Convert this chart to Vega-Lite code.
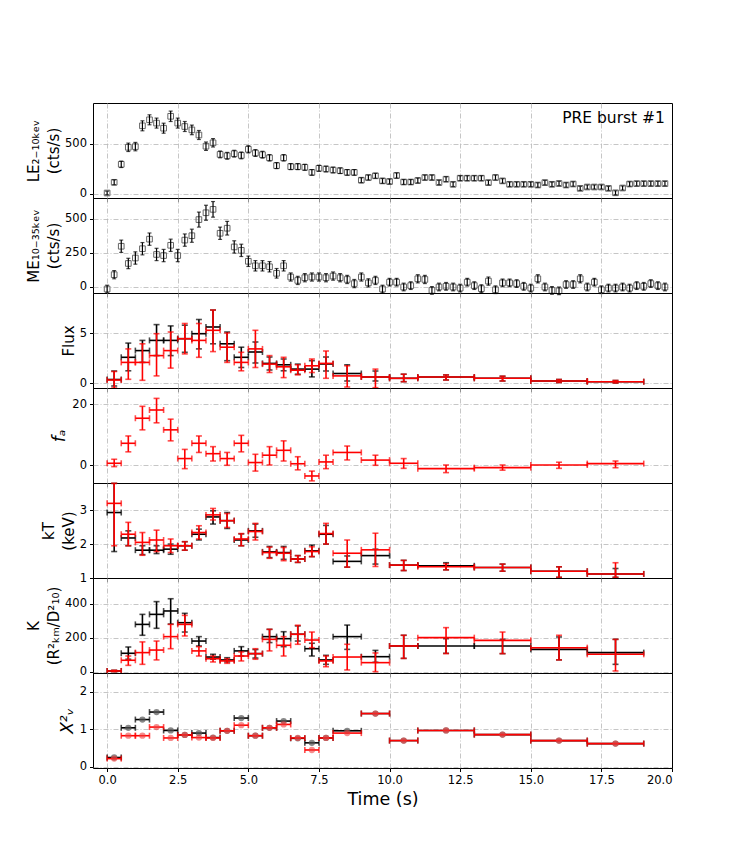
{
  "$schema": "https://vega.github.io/schema/vega-lite/v6.json",
  "padding": {"left": 26, "top": 102, "right": 5, "bottom": 5},
  "background": "white",
  "bounds": "flush",
  "datasets": {
    "lc": [
      {"t": 0, "le": 5, "lee": 18, "me": -15, "mee": 28},
      {"t": 0.25, "le": 112, "lee": 24, "me": 90, "mee": 30},
      {"t": 0.5, "le": 292, "lee": 32, "me": 298, "mee": 45},
      {"t": 0.75, "le": 462, "lee": 42, "me": 172, "mee": 38},
      {"t": 1, "le": 469, "lee": 42, "me": 212, "mee": 45},
      {"t": 1.25, "le": 677, "lee": 50, "me": 280, "mee": 45},
      {"t": 1.5, "le": 737, "lee": 50, "me": 350, "mee": 45},
      {"t": 1.75, "le": 704, "lee": 50, "me": 238, "mee": 45},
      {"t": 2, "le": 653, "lee": 50, "me": 230, "mee": 45},
      {"t": 2.25, "le": 772, "lee": 52, "me": 305, "mee": 45},
      {"t": 2.5, "le": 704, "lee": 50, "me": 230, "mee": 45},
      {"t": 2.75, "le": 670, "lee": 50, "me": 343, "mee": 45},
      {"t": 3, "le": 636, "lee": 48, "me": 375, "mee": 48},
      {"t": 3.25, "le": 585, "lee": 45, "me": 493, "mee": 55},
      {"t": 3.5, "le": 473, "lee": 42, "me": 543, "mee": 55},
      {"t": 3.75, "le": 507, "lee": 42, "me": 568, "mee": 57},
      {"t": 4, "le": 391, "lee": 34, "me": 393, "mee": 45},
      {"t": 4.25, "le": 377, "lee": 34, "me": 430, "mee": 50},
      {"t": 4.5, "le": 398, "lee": 34, "me": 293, "mee": 45},
      {"t": 4.75, "le": 381, "lee": 34, "me": 268, "mee": 45},
      {"t": 5, "le": 442, "lee": 36, "me": 188, "mee": 38},
      {"t": 5.25, "le": 405, "lee": 34, "me": 155, "mee": 38},
      {"t": 5.5, "le": 388, "lee": 34, "me": 155, "mee": 38},
      {"t": 5.75, "le": 357, "lee": 32, "me": 148, "mee": 38},
      {"t": 6, "le": 279, "lee": 30, "me": 100, "mee": 35},
      {"t": 6.25, "le": 357, "lee": 32, "me": 155, "mee": 38},
      {"t": 6.5, "le": 269, "lee": 30, "me": 73, "mee": 30},
      {"t": 6.75, "le": 269, "lee": 30, "me": 48, "mee": 30},
      {"t": 7, "le": 262, "lee": 30, "me": 68, "mee": 30},
      {"t": 7.25, "le": 211, "lee": 28, "me": 73, "mee": 30},
      {"t": 7.5, "le": 252, "lee": 30, "me": 73, "mee": 30},
      {"t": 7.75, "le": 245, "lee": 28, "me": 68, "mee": 30},
      {"t": 8, "le": 235, "lee": 28, "me": 80, "mee": 30},
      {"t": 8.25, "le": 228, "lee": 28, "me": 68, "mee": 30},
      {"t": 8.5, "le": 211, "lee": 28, "me": 55, "mee": 30},
      {"t": 8.75, "le": 211, "lee": 28, "me": 25, "mee": 30},
      {"t": 9, "le": 133, "lee": 24, "me": 73, "mee": 30},
      {"t": 9.25, "le": 160, "lee": 24, "me": 30, "mee": 30},
      {"t": 9.5, "le": 177, "lee": 24, "me": 48, "mee": 30},
      {"t": 9.75, "le": 126, "lee": 24, "me": -15, "mee": 28},
      {"t": 10, "le": 120, "lee": 24, "me": 35, "mee": 28},
      {"t": 10.25, "le": 180, "lee": 26, "me": 35, "mee": 28},
      {"t": 10.5, "le": 115, "lee": 24, "me": 0, "mee": 28},
      {"t": 10.75, "le": 115, "lee": 24, "me": 10, "mee": 28},
      {"t": 11, "le": 130, "lee": 24, "me": 60, "mee": 30},
      {"t": 11.25, "le": 160, "lee": 24, "me": 55, "mee": 30},
      {"t": 11.5, "le": 160, "lee": 24, "me": -25, "mee": 28},
      {"t": 11.75, "le": 110, "lee": 22, "me": 0, "mee": 28},
      {"t": 12, "le": 143, "lee": 24, "me": 5, "mee": 28},
      {"t": 12.25, "le": 92, "lee": 22, "me": 0, "mee": 28},
      {"t": 12.5, "le": 153, "lee": 24, "me": -8, "mee": 28},
      {"t": 12.75, "le": 153, "lee": 24, "me": 35, "mee": 28},
      {"t": 13, "le": 153, "lee": 24, "me": 10, "mee": 28},
      {"t": 13.25, "le": 153, "lee": 24, "me": -12, "mee": 28},
      {"t": 13.5, "le": 109, "lee": 22, "me": 43, "mee": 30},
      {"t": 13.75, "le": 160, "lee": 24, "me": -20, "mee": 28},
      {"t": 14, "le": 126, "lee": 22, "me": 30, "mee": 28},
      {"t": 14.25, "le": 92, "lee": 22, "me": 30, "mee": 28},
      {"t": 14.5, "le": 92, "lee": 22, "me": 25, "mee": 28},
      {"t": 14.75, "le": 92, "lee": 22, "me": 5, "mee": 28},
      {"t": 15, "le": 92, "lee": 22, "me": -8, "mee": 28},
      {"t": 15.25, "le": 85, "lee": 22, "me": 60, "mee": 30},
      {"t": 15.5, "le": 109, "lee": 22, "me": 0, "mee": 28},
      {"t": 15.75, "le": 92, "lee": 22, "me": -25, "mee": 28},
      {"t": 16, "le": 100, "lee": 22, "me": -28, "mee": 28},
      {"t": 16.25, "le": 85, "lee": 22, "me": 18, "mee": 28},
      {"t": 16.5, "le": 95, "lee": 22, "me": 18, "mee": 28},
      {"t": 16.75, "le": 51, "lee": 20, "me": 60, "mee": 30},
      {"t": 17, "le": 65, "lee": 20, "me": 0, "mee": 28},
      {"t": 17.25, "le": 65, "lee": 20, "me": 35, "mee": 28},
      {"t": 17.5, "le": 65, "lee": 20, "me": -20, "mee": 28},
      {"t": 17.75, "le": 51, "lee": 20, "me": -8, "mee": 28},
      {"t": 18, "le": 7, "lee": 20, "me": -8, "mee": 28},
      {"t": 18.25, "le": 55, "lee": 20, "me": 0, "mee": 28},
      {"t": 18.5, "le": 95, "lee": 22, "me": -8, "mee": 28},
      {"t": 18.75, "le": 99, "lee": 22, "me": 10, "mee": 28},
      {"t": 19, "le": 99, "lee": 22, "me": 5, "mee": 28},
      {"t": 19.25, "le": 99, "lee": 22, "me": 25, "mee": 28},
      {"t": 19.5, "le": 99, "lee": 22, "me": 10, "mee": 28},
      {"t": 19.75, "le": 99, "lee": 22, "me": 0, "mee": 28}
    ],
    "fits": [
      {"p": "fl", "m": "b", "t": 0.25, "d": 0.25, "v": 0.35, "lo": -0.3, "hi": 1.2},
      {"p": "fl", "m": "b", "t": 0.75, "d": 0.25, "v": 2.57, "lo": 1.22, "hi": 3.99},
      {"p": "fl", "m": "b", "t": 1.25, "d": 0.25, "v": 3.24, "lo": 2.06, "hi": 4.26},
      {"p": "fl", "m": "b", "t": 1.75, "d": 0.25, "v": 4.26, "lo": 2.74, "hi": 5.84},
      {"p": "fl", "m": "b", "t": 2.25, "d": 0.25, "v": 4.26, "lo": 2.74, "hi": 5.71},
      {"p": "fl", "m": "b", "t": 2.75, "d": 0.25, "v": 4.43, "lo": 3.07, "hi": 5.78},
      {"p": "fl", "m": "b", "t": 3.25, "d": 0.25, "v": 4.93, "lo": 3.41, "hi": 6.35},
      {"p": "fl", "m": "b", "t": 3.75, "d": 0.25, "v": 5.6, "lo": 3.92, "hi": 7.3},
      {"p": "fl", "m": "b", "t": 4.25, "d": 0.25, "v": 3.92, "lo": 2.23, "hi": 5.1},
      {"p": "fl", "m": "b", "t": 4.75, "d": 0.25, "v": 2.57, "lo": 1.55, "hi": 3.58},
      {"p": "fl", "m": "b", "t": 5.25, "d": 0.25, "v": 3.1, "lo": 2.0, "hi": 4.1},
      {"p": "fl", "m": "b", "t": 5.75, "d": 0.25, "v": 1.96, "lo": 1.3, "hi": 2.6},
      {"p": "fl", "m": "b", "t": 6.25, "d": 0.25, "v": 1.82, "lo": 1.22, "hi": 2.4},
      {"p": "fl", "m": "b", "t": 6.75, "d": 0.25, "v": 1.39, "lo": 0.88, "hi": 1.89},
      {"p": "fl", "m": "b", "t": 7.25, "d": 0.25, "v": 1.39, "lo": 0.61, "hi": 2.23},
      {"p": "fl", "m": "b", "t": 7.75, "d": 0.25, "v": 1.9, "lo": 1.2, "hi": 2.6},
      {"p": "fl", "m": "b", "t": 8.5, "d": 0.5, "v": 0.95, "lo": 0.2, "hi": 1.82},
      {"p": "fl", "m": "b", "t": 9.5, "d": 0.5, "v": 0.6, "lo": 0.2, "hi": 1.2},
      {"p": "fl", "m": "b", "t": 10.5, "d": 0.5, "v": 0.47, "lo": 0.13, "hi": 0.88},
      {"p": "fl", "m": "b", "t": 12, "d": 1, "v": 0.6, "lo": 0.3, "hi": 0.81},
      {"p": "fl", "m": "b", "t": 14, "d": 1, "v": 0.47, "lo": 0.2, "hi": 0.68},
      {"p": "fl", "m": "b", "t": 16, "d": 1, "v": 0.2, "lo": 0.05, "hi": 0.35},
      {"p": "fl", "m": "b", "t": 18, "d": 1, "v": 0.13, "lo": 0.0, "hi": 0.25},
      {"p": "fl", "m": "r", "t": 0.25, "d": 0.25, "v": 0.3, "lo": -0.5, "hi": 1.15},
      {"p": "fl", "m": "r", "t": 0.75, "d": 0.25, "v": 2.06, "lo": 0.37, "hi": 3.41},
      {"p": "fl", "m": "r", "t": 1.25, "d": 0.25, "v": 2.06, "lo": 0.27, "hi": 3.92},
      {"p": "fl", "m": "r", "t": 1.75, "d": 0.25, "v": 2.74, "lo": 0.71, "hi": 4.93},
      {"p": "fl", "m": "r", "t": 2.25, "d": 0.25, "v": 3.24, "lo": 1.49, "hi": 5.1},
      {"p": "fl", "m": "r", "t": 2.75, "d": 0.25, "v": 4.43, "lo": 2.91, "hi": 5.95},
      {"p": "fl", "m": "r", "t": 3.25, "d": 0.25, "v": 4.26, "lo": 2.57, "hi": 5.95},
      {"p": "fl", "m": "r", "t": 3.75, "d": 0.25, "v": 5.27, "lo": 3.14, "hi": 7.3},
      {"p": "fl", "m": "r", "t": 4.25, "d": 0.25, "v": 3.58, "lo": 2.06, "hi": 5.0},
      {"p": "fl", "m": "r", "t": 4.75, "d": 0.25, "v": 2.06, "lo": 1.22, "hi": 3.07},
      {"p": "fl", "m": "r", "t": 5.25, "d": 0.25, "v": 3.41, "lo": 1.55, "hi": 5.27},
      {"p": "fl", "m": "r", "t": 5.75, "d": 0.25, "v": 1.89, "lo": 1.05, "hi": 2.74},
      {"p": "fl", "m": "r", "t": 6.25, "d": 0.25, "v": 1.62, "lo": 0.54, "hi": 2.57},
      {"p": "fl", "m": "r", "t": 6.75, "d": 0.25, "v": 1.28, "lo": 0.81, "hi": 1.82},
      {"p": "fl", "m": "r", "t": 7.25, "d": 0.25, "v": 1.72, "lo": 1.05, "hi": 2.4},
      {"p": "fl", "m": "r", "t": 7.75, "d": 0.25, "v": 1.96, "lo": 0.47, "hi": 3.2},
      {"p": "fl", "m": "r", "t": 8.5, "d": 0.5, "v": 0.71, "lo": -0.4, "hi": 1.72},
      {"p": "fl", "m": "r", "t": 9.5, "d": 0.5, "v": 0.6, "lo": -0.47, "hi": 1.39},
      {"p": "fl", "m": "r", "t": 10.5, "d": 0.5, "v": 0.47, "lo": 0.13, "hi": 0.88},
      {"p": "fl", "m": "r", "t": 12, "d": 1, "v": 0.6, "lo": 0.3, "hi": 0.81},
      {"p": "fl", "m": "r", "t": 14, "d": 1, "v": 0.47, "lo": 0.2, "hi": 0.68},
      {"p": "fl", "m": "r", "t": 16, "d": 1, "v": 0.2, "lo": 0.05, "hi": 0.35},
      {"p": "fl", "m": "r", "t": 18, "d": 1, "v": 0.13, "lo": 0.0, "hi": 0.25},

      {"p": "fa", "m": "r", "t": 0.25, "d": 0.25, "v": 0.66, "lo": -0.44, "hi": 1.97},
      {"p": "fa", "m": "r", "t": 0.75, "d": 0.25, "v": 7.2, "lo": 4.4, "hi": 9.6},
      {"p": "fa", "m": "r", "t": 1.25, "d": 0.25, "v": 15.4, "lo": 11.6, "hi": 19.3},
      {"p": "fa", "m": "r", "t": 1.75, "d": 0.25, "v": 18.1, "lo": 13.9, "hi": 21.9},
      {"p": "fa", "m": "r", "t": 2.25, "d": 0.25, "v": 11.6, "lo": 8.0, "hi": 15.1},
      {"p": "fa", "m": "r", "t": 2.75, "d": 0.25, "v": 2.2, "lo": -1.1, "hi": 5.2},
      {"p": "fa", "m": "r", "t": 3.25, "d": 0.25, "v": 7.2, "lo": 4.2, "hi": 9.6},
      {"p": "fa", "m": "r", "t": 3.75, "d": 0.25, "v": 3.8, "lo": 1.4, "hi": 6.1},
      {"p": "fa", "m": "r", "t": 4.25, "d": 0.25, "v": 2.2, "lo": 0.0, "hi": 4.2},
      {"p": "fa", "m": "r", "t": 4.75, "d": 0.25, "v": 7.2, "lo": 4.4, "hi": 9.8},
      {"p": "fa", "m": "r", "t": 5.25, "d": 0.25, "v": 0.9, "lo": -1.9, "hi": 3.6},
      {"p": "fa", "m": "r", "t": 5.75, "d": 0.25, "v": 3.3, "lo": 0.1, "hi": 6.1},
      {"p": "fa", "m": "r", "t": 6.25, "d": 0.25, "v": 4.9, "lo": 1.4, "hi": 8.0},
      {"p": "fa", "m": "r", "t": 6.75, "d": 0.25, "v": 0.5, "lo": -1.5, "hi": 2.8},
      {"p": "fa", "m": "r", "t": 7.25, "d": 0.25, "v": -3.5, "lo": -5.1, "hi": -1.9},
      {"p": "fa", "m": "r", "t": 7.75, "d": 0.25, "v": 1.1, "lo": -1.1, "hi": 3.3},
      {"p": "fa", "m": "r", "t": 8.5, "d": 0.5, "v": 4.2, "lo": 1.75, "hi": 6.3},
      {"p": "fa", "m": "r", "t": 9.5, "d": 0.5, "v": 1.7, "lo": 0.0, "hi": 3.3},
      {"p": "fa", "m": "r", "t": 10.5, "d": 0.5, "v": 0.66, "lo": -1.0, "hi": 2.2},
      {"p": "fa", "m": "r", "t": 12, "d": 1, "v": -1.1, "lo": -2.4, "hi": 0.1},
      {"p": "fa", "m": "r", "t": 14, "d": 1, "v": -0.77, "lo": -1.6, "hi": 0.1},
      {"p": "fa", "m": "r", "t": 16, "d": 1, "v": 0.1, "lo": -1.0, "hi": 1.0},
      {"p": "fa", "m": "r", "t": 18, "d": 1, "v": 0.55, "lo": -0.8, "hi": 1.4},

      {"p": "kt", "m": "b", "t": 0.25, "d": 0.25, "v": 2.93, "lo": 1.78, "hi": 3.79},
      {"p": "kt", "m": "b", "t": 0.75, "d": 0.25, "v": 2.18, "lo": 1.95, "hi": 2.39},
      {"p": "kt", "m": "b", "t": 1.25, "d": 0.25, "v": 1.82, "lo": 1.69, "hi": 1.95},
      {"p": "kt", "m": "b", "t": 1.75, "d": 0.25, "v": 1.82, "lo": 1.72, "hi": 1.95},
      {"p": "kt", "m": "b", "t": 2.25, "d": 0.25, "v": 1.85, "lo": 1.7, "hi": 2.0},
      {"p": "kt", "m": "b", "t": 2.75, "d": 0.25, "v": 1.95, "lo": 1.82, "hi": 2.07},
      {"p": "kt", "m": "b", "t": 3.25, "d": 0.25, "v": 2.29, "lo": 2.12, "hi": 2.44},
      {"p": "kt", "m": "b", "t": 3.75, "d": 0.25, "v": 2.8, "lo": 2.59, "hi": 2.98},
      {"p": "kt", "m": "b", "t": 4.25, "d": 0.25, "v": 2.69, "lo": 2.46, "hi": 2.93},
      {"p": "kt", "m": "b", "t": 4.75, "d": 0.25, "v": 2.12, "lo": 1.95, "hi": 2.3},
      {"p": "kt", "m": "b", "t": 5.25, "d": 0.25, "v": 2.39, "lo": 2.2, "hi": 2.59},
      {"p": "kt", "m": "b", "t": 5.75, "d": 0.25, "v": 1.77, "lo": 1.6, "hi": 1.93},
      {"p": "kt", "m": "b", "t": 6.25, "d": 0.25, "v": 1.75, "lo": 1.55, "hi": 1.93},
      {"p": "kt", "m": "b", "t": 6.75, "d": 0.25, "v": 1.56, "lo": 1.46, "hi": 1.66},
      {"p": "kt", "m": "b", "t": 7.25, "d": 0.25, "v": 1.8, "lo": 1.63, "hi": 1.97},
      {"p": "kt", "m": "b", "t": 7.75, "d": 0.25, "v": 2.29, "lo": 2.0, "hi": 2.55},
      {"p": "kt", "m": "b", "t": 8.5, "d": 0.5, "v": 1.49, "lo": 1.32, "hi": 1.65},
      {"p": "kt", "m": "b", "t": 9.5, "d": 0.5, "v": 1.66, "lo": 1.41, "hi": 1.85},
      {"p": "kt", "m": "b", "t": 10.5, "d": 0.5, "v": 1.38, "lo": 1.22, "hi": 1.52},
      {"p": "kt", "m": "b", "t": 12, "d": 1, "v": 1.36, "lo": 1.24, "hi": 1.45},
      {"p": "kt", "m": "b", "t": 14, "d": 1, "v": 1.31, "lo": 1.2, "hi": 1.41},
      {"p": "kt", "m": "b", "t": 16, "d": 1, "v": 1.2, "lo": 1.02, "hi": 1.33},
      {"p": "kt", "m": "b", "t": 18, "d": 1, "v": 1.12, "lo": 1.02, "hi": 1.28},
      {"p": "kt", "m": "r", "t": 0.25, "d": 0.25, "v": 3.2, "lo": 1.95, "hi": 3.79},
      {"p": "kt", "m": "r", "t": 0.75, "d": 0.25, "v": 2.29, "lo": 1.95, "hi": 2.64},
      {"p": "kt", "m": "r", "t": 1.25, "d": 0.25, "v": 2.05, "lo": 1.67, "hi": 2.34},
      {"p": "kt", "m": "r", "t": 1.75, "d": 0.25, "v": 2.12, "lo": 1.78, "hi": 2.41},
      {"p": "kt", "m": "r", "t": 2.25, "d": 0.25, "v": 1.95, "lo": 1.75, "hi": 2.15},
      {"p": "kt", "m": "r", "t": 2.75, "d": 0.25, "v": 1.95, "lo": 1.82, "hi": 2.07},
      {"p": "kt", "m": "r", "t": 3.25, "d": 0.25, "v": 2.34, "lo": 2.15, "hi": 2.54},
      {"p": "kt", "m": "r", "t": 3.75, "d": 0.25, "v": 2.86, "lo": 2.71, "hi": 3.05},
      {"p": "kt", "m": "r", "t": 4.25, "d": 0.25, "v": 2.69, "lo": 2.49, "hi": 2.9},
      {"p": "kt", "m": "r", "t": 4.75, "d": 0.25, "v": 2.15, "lo": 1.95, "hi": 2.31},
      {"p": "kt", "m": "r", "t": 5.25, "d": 0.25, "v": 2.37, "lo": 2.12, "hi": 2.61},
      {"p": "kt", "m": "r", "t": 5.75, "d": 0.25, "v": 1.75, "lo": 1.58, "hi": 1.91},
      {"p": "kt", "m": "r", "t": 6.25, "d": 0.25, "v": 1.73, "lo": 1.51, "hi": 1.9},
      {"p": "kt", "m": "r", "t": 6.75, "d": 0.25, "v": 1.56, "lo": 1.46, "hi": 1.66},
      {"p": "kt", "m": "r", "t": 7.25, "d": 0.25, "v": 1.78, "lo": 1.63, "hi": 1.92},
      {"p": "kt", "m": "r", "t": 7.75, "d": 0.25, "v": 2.31, "lo": 2.0, "hi": 2.61},
      {"p": "kt", "m": "r", "t": 8.5, "d": 0.5, "v": 1.73, "lo": 1.32, "hi": 2.12},
      {"p": "kt", "m": "r", "t": 9.5, "d": 0.5, "v": 1.83, "lo": 1.34, "hi": 2.32},
      {"p": "kt", "m": "r", "t": 10.5, "d": 0.5, "v": 1.38, "lo": 1.22, "hi": 1.52},
      {"p": "kt", "m": "r", "t": 12, "d": 1, "v": 1.33, "lo": 1.24, "hi": 1.42},
      {"p": "kt", "m": "r", "t": 14, "d": 1, "v": 1.31, "lo": 1.2, "hi": 1.41},
      {"p": "kt", "m": "r", "t": 16, "d": 1, "v": 1.2, "lo": 1.02, "hi": 1.33},
      {"p": "kt", "m": "r", "t": 18, "d": 1, "v": 1.12, "lo": 1.02, "hi": 1.45},

      {"p": "k", "m": "b", "t": 0.25, "d": 0.25, "v": 4, "lo": 0, "hi": 8},
      {"p": "k", "m": "b", "t": 0.75, "d": 0.25, "v": 108, "lo": 73, "hi": 145},
      {"p": "k", "m": "b", "t": 1.25, "d": 0.25, "v": 278, "lo": 214, "hi": 337},
      {"p": "k", "m": "b", "t": 1.75, "d": 0.25, "v": 337, "lo": 255, "hi": 412},
      {"p": "k", "m": "b", "t": 2.25, "d": 0.25, "v": 357, "lo": 280, "hi": 429},
      {"p": "k", "m": "b", "t": 2.75, "d": 0.25, "v": 288, "lo": 233, "hi": 343},
      {"p": "k", "m": "b", "t": 3.25, "d": 0.25, "v": 180, "lo": 151, "hi": 206},
      {"p": "k", "m": "b", "t": 3.75, "d": 0.25, "v": 86, "lo": 73, "hi": 102},
      {"p": "k", "m": "b", "t": 4.25, "d": 0.25, "v": 69, "lo": 57, "hi": 82},
      {"p": "k", "m": "b", "t": 4.75, "d": 0.25, "v": 122, "lo": 92, "hi": 147},
      {"p": "k", "m": "b", "t": 5.25, "d": 0.25, "v": 106, "lo": 80, "hi": 130},
      {"p": "k", "m": "b", "t": 5.75, "d": 0.25, "v": 206, "lo": 171, "hi": 249},
      {"p": "k", "m": "b", "t": 6.25, "d": 0.25, "v": 194, "lo": 147, "hi": 235},
      {"p": "k", "m": "b", "t": 6.75, "d": 0.25, "v": 220, "lo": 180, "hi": 269},
      {"p": "k", "m": "b", "t": 7.25, "d": 0.25, "v": 135, "lo": 92, "hi": 167},
      {"p": "k", "m": "b", "t": 7.75, "d": 0.25, "v": 69, "lo": 43, "hi": 96},
      {"p": "k", "m": "b", "t": 8.5, "d": 0.5, "v": 206, "lo": 131, "hi": 274},
      {"p": "k", "m": "b", "t": 9.5, "d": 0.5, "v": 88, "lo": 55, "hi": 125},
      {"p": "k", "m": "b", "t": 10.5, "d": 0.5, "v": 151, "lo": 78, "hi": 214},
      {"p": "k", "m": "b", "t": 12, "d": 1, "v": 151, "lo": 108, "hi": 194},
      {"p": "k", "m": "b", "t": 14, "d": 1, "v": 151, "lo": 106, "hi": 190},
      {"p": "k", "m": "b", "t": 16, "d": 1, "v": 131, "lo": 69, "hi": 204},
      {"p": "k", "m": "b", "t": 18, "d": 1, "v": 112, "lo": 43, "hi": 190},
      {"p": "k", "m": "r", "t": 0.25, "d": 0.25, "v": 4, "lo": 0, "hi": 8},
      {"p": "k", "m": "r", "t": 0.75, "d": 0.25, "v": 67, "lo": 37, "hi": 92},
      {"p": "k", "m": "r", "t": 1.25, "d": 0.25, "v": 112, "lo": 43, "hi": 175},
      {"p": "k", "m": "r", "t": 1.75, "d": 0.25, "v": 127, "lo": 69, "hi": 180},
      {"p": "k", "m": "r", "t": 2.25, "d": 0.25, "v": 206, "lo": 135, "hi": 278},
      {"p": "k", "m": "r", "t": 2.75, "d": 0.25, "v": 278, "lo": 210, "hi": 331},
      {"p": "k", "m": "r", "t": 3.25, "d": 0.25, "v": 122, "lo": 92, "hi": 147},
      {"p": "k", "m": "r", "t": 3.75, "d": 0.25, "v": 76, "lo": 57, "hi": 92},
      {"p": "k", "m": "r", "t": 4.25, "d": 0.25, "v": 63, "lo": 49, "hi": 76},
      {"p": "k", "m": "r", "t": 4.75, "d": 0.25, "v": 92, "lo": 63, "hi": 116},
      {"p": "k", "m": "r", "t": 5.25, "d": 0.25, "v": 106, "lo": 73, "hi": 135},
      {"p": "k", "m": "r", "t": 5.75, "d": 0.25, "v": 190, "lo": 122, "hi": 249},
      {"p": "k", "m": "r", "t": 6.25, "d": 0.25, "v": 155, "lo": 92, "hi": 206},
      {"p": "k", "m": "r", "t": 6.75, "d": 0.25, "v": 220, "lo": 161, "hi": 273},
      {"p": "k", "m": "r", "t": 7.25, "d": 0.25, "v": 186, "lo": 141, "hi": 233},
      {"p": "k", "m": "r", "t": 7.75, "d": 0.25, "v": 63, "lo": 29, "hi": 92},
      {"p": "k", "m": "r", "t": 8.5, "d": 0.5, "v": 86, "lo": 10, "hi": 161},
      {"p": "k", "m": "r", "t": 9.5, "d": 0.5, "v": 53, "lo": 0, "hi": 110},
      {"p": "k", "m": "r", "t": 10.5, "d": 0.5, "v": 151, "lo": 78, "hi": 214},
      {"p": "k", "m": "r", "t": 12, "d": 1, "v": 200, "lo": 106, "hi": 259},
      {"p": "k", "m": "r", "t": 14, "d": 1, "v": 184, "lo": 106, "hi": 233},
      {"p": "k", "m": "r", "t": 16, "d": 1, "v": 141, "lo": 69, "hi": 214},
      {"p": "k", "m": "r", "t": 18, "d": 1, "v": 102, "lo": 4, "hi": 190},

      {"p": "c", "m": "b", "t": 0.25, "d": 0.25, "v": 0.25},
      {"p": "c", "m": "b", "t": 0.75, "d": 0.25, "v": 1.04},
      {"p": "c", "m": "b", "t": 1.25, "d": 0.25, "v": 1.26},
      {"p": "c", "m": "b", "t": 1.75, "d": 0.25, "v": 1.46},
      {"p": "c", "m": "b", "t": 2.25, "d": 0.25, "v": 0.97},
      {"p": "c", "m": "b", "t": 2.75, "d": 0.25, "v": 0.85},
      {"p": "c", "m": "b", "t": 3.25, "d": 0.25, "v": 0.9},
      {"p": "c", "m": "b", "t": 3.75, "d": 0.25, "v": 0.78},
      {"p": "c", "m": "b", "t": 4.25, "d": 0.25, "v": 0.96},
      {"p": "c", "m": "b", "t": 4.75, "d": 0.25, "v": 1.3},
      {"p": "c", "m": "b", "t": 5.25, "d": 0.25, "v": 0.83},
      {"p": "c", "m": "b", "t": 5.75, "d": 0.25, "v": 1.04},
      {"p": "c", "m": "b", "t": 6.25, "d": 0.25, "v": 1.22},
      {"p": "c", "m": "b", "t": 6.75, "d": 0.25, "v": 0.76},
      {"p": "c", "m": "b", "t": 7.25, "d": 0.25, "v": 0.64},
      {"p": "c", "m": "b", "t": 7.75, "d": 0.25, "v": 0.77},
      {"p": "c", "m": "b", "t": 8.5, "d": 0.5, "v": 0.96},
      {"p": "c", "m": "b", "t": 9.5, "d": 0.5, "v": 1.42},
      {"p": "c", "m": "b", "t": 10.5, "d": 0.5, "v": 0.7},
      {"p": "c", "m": "b", "t": 12, "d": 1, "v": 0.97},
      {"p": "c", "m": "b", "t": 14, "d": 1, "v": 0.86},
      {"p": "c", "m": "b", "t": 16, "d": 1, "v": 0.7},
      {"p": "c", "m": "b", "t": 18, "d": 1, "v": 0.62},
      {"p": "c", "m": "r", "t": 0.25, "d": 0.25, "v": 0.22},
      {"p": "c", "m": "r", "t": 0.75, "d": 0.25, "v": 0.83},
      {"p": "c", "m": "r", "t": 1.25, "d": 0.25, "v": 0.83},
      {"p": "c", "m": "r", "t": 1.75, "d": 0.25, "v": 1.06},
      {"p": "c", "m": "r", "t": 2.25, "d": 0.25, "v": 0.77},
      {"p": "c", "m": "r", "t": 2.75, "d": 0.25, "v": 0.85},
      {"p": "c", "m": "r", "t": 3.25, "d": 0.25, "v": 0.78},
      {"p": "c", "m": "r", "t": 3.75, "d": 0.25, "v": 0.77},
      {"p": "c", "m": "r", "t": 4.25, "d": 0.25, "v": 0.96},
      {"p": "c", "m": "r", "t": 4.75, "d": 0.25, "v": 1.11},
      {"p": "c", "m": "r", "t": 5.25, "d": 0.25, "v": 0.83},
      {"p": "c", "m": "r", "t": 5.75, "d": 0.25, "v": 1.04},
      {"p": "c", "m": "r", "t": 6.25, "d": 0.25, "v": 1.13},
      {"p": "c", "m": "r", "t": 6.75, "d": 0.25, "v": 0.77},
      {"p": "c", "m": "r", "t": 7.25, "d": 0.25, "v": 0.45},
      {"p": "c", "m": "r", "t": 7.75, "d": 0.25, "v": 0.77},
      {"p": "c", "m": "r", "t": 8.5, "d": 0.5, "v": 0.9},
      {"p": "c", "m": "r", "t": 9.5, "d": 0.5, "v": 1.42},
      {"p": "c", "m": "r", "t": 10.5, "d": 0.5, "v": 0.7},
      {"p": "c", "m": "r", "t": 12, "d": 1, "v": 0.97},
      {"p": "c", "m": "r", "t": 14, "d": 1, "v": 0.86},
      {"p": "c", "m": "r", "t": 16, "d": 1, "v": 0.7},
      {"p": "c", "m": "r", "t": 18, "d": 1, "v": 0.62}
    ]
  },
  "vconcat": [
    {
      "width": 579, "height": 95,
      "data": {"name": "lc"},
      "encoding": {
        "x": {"field": "t", "type": "quantitative", "scale": {"domain": [-0.5, 20], "nice": false, "zero": false}, "axis": {"values": [0, 2.5, 5, 7.5, 10, 12.5, 15, 17.5, 20], "labels": false, "title": null}},
        "y": {"field": "le", "type": "quantitative", "scale": {"domain": [-45, 905], "nice": false, "zero": false}, "axis": {"values": [0, 500], "title": ["LE₂₋₁₀ₖₑᵥ", "(cts/s)"]}}
      },
      "layer": [
        {"mark": {"type": "point", "shape": "square", "filled": false, "stroke": "#666", "strokeWidth": 1, "size": 32, "opacity": 1}},
        {"mark": {"type": "errorbar", "ticks": true, "size": 4, "thickness": 1.2, "color": "black"}, "encoding": {"yError": {"field": "lee"}}},
        {"mark": {"type": "errorbar", "ticks": true, "size": 4, "thickness": 1.2, "color": "black"}, "encoding": {"xError": {"value": 0.125}}},
        {
          "data": {"values": [{"t": 19.75, "le": 760, "label": "PRE burst #1"}]},
          "mark": {"type": "text", "align": "right", "baseline": "middle", "fontSize": 15.5, "font": "DejaVu Sans", "color": "black"},
          "encoding": {"text": {"field": "label"}}
        }
      ]
    },
    {
      "width": 579, "height": 95,
      "data": {"name": "lc"},
      "encoding": {
        "x": {"field": "t", "type": "quantitative", "scale": {"domain": [-0.5, 20], "nice": false, "zero": false}, "axis": {"values": [0, 2.5, 5, 7.5, 10, 12.5, 15, 17.5, 20], "labels": false, "title": null}},
        "y": {"field": "me", "type": "quantitative", "scale": {"domain": [-44, 651], "nice": false, "zero": false}, "axis": {"values": [0, 250, 500], "title": ["ME₁₀₋₃₅ₖₑᵥ", "(cts/s)"]}}
      },
      "layer": [
        {"mark": {"type": "point", "shape": "square", "filled": false, "stroke": "#666", "strokeWidth": 1, "size": 32, "opacity": 1}},
        {"mark": {"type": "errorbar", "ticks": true, "size": 4, "thickness": 1.2, "color": "black"}, "encoding": {"yError": {"field": "mee"}}},
        {"mark": {"type": "errorbar", "ticks": true, "size": 4, "thickness": 1.2, "color": "black"}, "encoding": {"xError": {"value": 0.125}}}
      ]
    },
    {
      "width": 579, "height": 95,
      "data": {"name": "fits"},
      "transform": [{"filter": "datum.p == 'fl'"}],
      "encoding": {
        "x": {"field": "t", "type": "quantitative", "scale": {"domain": [-0.5, 20], "nice": false, "zero": false}, "axis": {"values": [0, 2.5, 5, 7.5, 10, 12.5, 15, 17.5, 20], "labels": false, "title": null}},
        "y": {"field": "v", "type": "quantitative", "scale": {"domain": [-0.5, 9.0], "nice": false, "zero": false}, "axis": {"values": [0, 5], "title": "Flux"}}
      },
      "layer": [
        {"transform": [{"filter": "datum.m == 'b'"}], "mark": {"type": "errorbar", "ticks": true, "size": 6, "thickness": 1.6, "color": "black"},
         "encoding": {"y": {"field": "lo", "type": "quantitative", "scale": {"domain": [-0.5, 9.0], "nice": false, "zero": false}, "axis": {"values": [0, 5], "title": "Flux"}}, "y2": {"field": "hi"}}},
        {"transform": [{"filter": "datum.m == 'b'"}], "mark": {"type": "errorbar", "ticks": true, "size": 6, "thickness": 1.6, "color": "black"}, "encoding": {"xError": {"field": "d"}}},
        {"transform": [{"filter": "datum.m == 'r'"}], "mark": {"type": "errorbar", "ticks": true, "size": 6, "thickness": 1.6, "color": "#ff0000"},
         "encoding": {"y": {"field": "lo", "type": "quantitative", "scale": {"domain": [-0.5, 9.0], "nice": false, "zero": false}, "axis": {"values": [0, 5], "title": "Flux"}}, "y2": {"field": "hi"}}},
        {"transform": [{"filter": "datum.m == 'r'"}], "mark": {"type": "errorbar", "ticks": true, "size": 6, "thickness": 1.6, "color": "#ff0000"}, "encoding": {"xError": {"field": "d"}}}
      ]
    },
    {
      "width": 579, "height": 95,
      "data": {"name": "fits"},
      "transform": [{"filter": "datum.p == 'fa'"}],
      "encoding": {
        "x": {"field": "t", "type": "quantitative", "scale": {"domain": [-0.5, 20], "nice": false, "zero": false}, "axis": {"values": [0, 2.5, 5, 7.5, 10, 12.5, 15, 17.5, 20], "labels": false, "title": null}},
        "y": {"field": "v", "type": "quantitative", "scale": {"domain": [-5.8, 25.3], "nice": false, "zero": false}, "axis": {"values": [0, 20], "title": "fₐ", "titleFontStyle": "italic", "titleFontSize": 17}}
      },
      "layer": [
        {"mark": {"type": "errorbar", "ticks": true, "size": 6, "thickness": 1.6, "color": "#ff0000"},
         "encoding": {"y": {"field": "lo", "type": "quantitative", "scale": {"domain": [-5.8, 25.3], "nice": false, "zero": false}, "axis": {"values": [0, 20], "title": "fₐ", "titleFontStyle": "italic", "titleFontSize": 17}}, "y2": {"field": "hi"}}},
        {"mark": {"type": "errorbar", "ticks": true, "size": 6, "thickness": 1.6, "color": "#ff0000"}, "encoding": {"xError": {"field": "d"}}}
      ]
    },
    {
      "width": 579, "height": 95,
      "data": {"name": "fits"},
      "transform": [{"filter": "datum.p == 'kt'"}],
      "encoding": {
        "x": {"field": "t", "type": "quantitative", "scale": {"domain": [-0.5, 20], "nice": false, "zero": false}, "axis": {"values": [0, 2.5, 5, 7.5, 10, 12.5, 15, 17.5, 20], "labels": false, "title": null}},
        "y": {"field": "v", "type": "quantitative", "scale": {"domain": [1.0, 3.8], "nice": false, "zero": false}, "axis": {"values": [1, 2, 3], "title": ["kT", "(keV)"]}}
      },
      "layer": [
        {"transform": [{"filter": "datum.m == 'b'"}], "mark": {"type": "errorbar", "ticks": true, "size": 6, "thickness": 1.6, "color": "black"},
         "encoding": {"y": {"field": "lo", "type": "quantitative", "scale": {"domain": [1.0, 3.8], "nice": false, "zero": false}, "axis": {"values": [1, 2, 3], "title": ["kT", "(keV)"]}}, "y2": {"field": "hi"}}},
        {"transform": [{"filter": "datum.m == 'b'"}], "mark": {"type": "errorbar", "ticks": true, "size": 6, "thickness": 1.6, "color": "black"}, "encoding": {"xError": {"field": "d"}}},
        {"transform": [{"filter": "datum.m == 'r'"}], "mark": {"type": "errorbar", "ticks": true, "size": 6, "thickness": 1.6, "color": "#ff0000"},
         "encoding": {"y": {"field": "lo", "type": "quantitative", "scale": {"domain": [1.0, 3.8], "nice": false, "zero": false}, "axis": {"values": [1, 2, 3], "title": ["kT", "(keV)"]}}, "y2": {"field": "hi"}}},
        {"transform": [{"filter": "datum.m == 'r'"}], "mark": {"type": "errorbar", "ticks": true, "size": 6, "thickness": 1.6, "color": "#ff0000"}, "encoding": {"xError": {"field": "d"}}}
      ]
    },
    {
      "width": 579, "height": 95,
      "data": {"name": "fits"},
      "transform": [{"filter": "datum.p == 'k'"}],
      "encoding": {
        "x": {"field": "t", "type": "quantitative", "scale": {"domain": [-0.5, 20], "nice": false, "zero": false}, "axis": {"values": [0, 2.5, 5, 7.5, 10, 12.5, 15, 17.5, 20], "labels": false, "title": null}},
        "y": {"field": "v", "type": "quantitative", "scale": {"domain": [-8, 551], "nice": false, "zero": false}, "axis": {"values": [0, 200, 400], "title": ["K", "(R²ₖₘ/D²₁₀)"]}}
      },
      "layer": [
        {"transform": [{"filter": "datum.m == 'b'"}], "mark": {"type": "errorbar", "ticks": true, "size": 6, "thickness": 1.6, "color": "black"},
         "encoding": {"y": {"field": "lo", "type": "quantitative", "scale": {"domain": [-8, 551], "nice": false, "zero": false}, "axis": {"values": [0, 200, 400], "title": ["K", "(R²ₖₘ/D²₁₀)"]}}, "y2": {"field": "hi"}}},
        {"transform": [{"filter": "datum.m == 'b'"}], "mark": {"type": "errorbar", "ticks": true, "size": 6, "thickness": 1.6, "color": "black"}, "encoding": {"xError": {"field": "d"}}},
        {"transform": [{"filter": "datum.m == 'r'"}], "mark": {"type": "errorbar", "ticks": true, "size": 6, "thickness": 1.6, "color": "#ff0000"},
         "encoding": {"y": {"field": "lo", "type": "quantitative", "scale": {"domain": [-8, 551], "nice": false, "zero": false}, "axis": {"values": [0, 200, 400], "title": ["K", "(R²ₖₘ/D²₁₀)"]}}, "y2": {"field": "hi"}}},
        {"transform": [{"filter": "datum.m == 'r'"}], "mark": {"type": "errorbar", "ticks": true, "size": 6, "thickness": 1.6, "color": "#ff0000"}, "encoding": {"xError": {"field": "d"}}}
      ]
    },
    {
      "width": 579, "height": 95,
      "data": {"name": "fits"},
      "transform": [{"filter": "datum.p == 'c'"}],
      "encoding": {
        "x": {"field": "t", "type": "quantitative", "scale": {"domain": [-0.5, 20], "nice": false, "zero": false}, "axis": {"values": [0, 2.5, 5, 7.5, 10, 12.5, 15, 17.5, 20], "format": ".1f", "title": "Time (s)", "titleFontSize": 17.5, "titlePadding": 4}},
        "y": {"field": "v", "type": "quantitative", "scale": {"domain": [-0.03, 2.5], "nice": false, "zero": false}, "axis": {"values": [0, 1, 2], "title": "X²ᵥ", "titleFontStyle": "italic", "titleFontSize": 17}}
      },
      "layer": [
        {"transform": [{"filter": "datum.m == 'b'"}], "mark": {"type": "errorbar", "ticks": true, "size": 6, "thickness": 1.6, "color": "black"}, "encoding": {"xError": {"field": "d"}}},
        {"transform": [{"filter": "datum.m == 'b'"}], "mark": {"type": "circle", "size": 40, "color": "#555", "opacity": 0.7}},
        {"transform": [{"filter": "datum.m == 'r'"}], "mark": {"type": "errorbar", "ticks": true, "size": 6, "thickness": 1.6, "color": "#ff0000"}, "encoding": {"xError": {"field": "d"}}},
        {"transform": [{"filter": "datum.m == 'r'"}], "mark": {"type": "circle", "size": 40, "color": "#f04040", "opacity": 0.6}}
      ]
    }
  ],
  "config": {
    "font": "DejaVu Sans",
    "view": {"stroke": "black", "strokeWidth": 1},
    "concat": {"spacing": 0},
    "axis": {
      "domain": false,
      "grid": true,
      "gridColor": "#b8b8b8",
      "gridDash": [5, 2, 1, 2],
      "gridWidth": 0.8,
      "tickColor": "black",
      "tickSize": 3.5,
      "labelFont": "DejaVu Sans",
      "labelFontSize": 11.5,
      "labelColor": "black",
      "labelPadding": 3,
      "titleFont": "DejaVu Sans",
      "titleFontSize": 15,
      "titleFontWeight": "normal",
      "titleColor": "black",
      "titleLineHeight": 20,
      "titlePadding": 3
    },
    "axisX": {
      "gridOpacity": {"condition": {"test": "datum.value >= 20", "value": 0}, "value": 1}
    }
  }
}
